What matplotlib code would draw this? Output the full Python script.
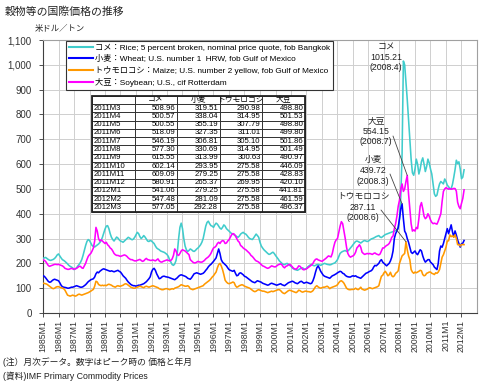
import numpy as np
import matplotlib.pyplot as plt
from matplotlib.patches import Rectangle

plt.rcParams['font.family'] = ['Liberation Sans', 'Noto Sans CJK JP']

# monthly prices (US$/ton), 1985M1 - 2012M3, one row per year
rice = [
    220, 222, 224, 220, 216, 213, 212, 214, 216, 220, 226, 234,
    238, 230, 222, 215, 212, 208, 203, 198, 192, 188, 185, 182,
    175, 178, 182, 190, 196, 204, 215, 232, 252, 272, 288, 296,
    292, 282, 272, 268, 266, 270, 274, 278, 284, 292, 305, 322,
    338, 350, 352, 340, 320, 305, 296, 290, 298, 306, 302, 295,
    290, 288, 285, 290, 295, 300, 305, 302, 298, 295, 298, 305,
    315, 325, 320, 308, 300, 305, 312, 306, 298, 290, 288, 292,
    290, 285, 280, 270, 262, 258, 255, 250, 248, 246, 244, 240,
    236, 228, 215, 205, 195, 192, 198, 212, 245, 300, 345, 362,
    340, 300, 270, 255, 248, 252, 258, 255, 250, 248, 252, 258,
    262, 268, 275, 285, 300, 325, 350, 365, 370, 360, 352, 350,
    345, 355, 362, 358, 350, 342, 338, 345, 355, 350, 340, 335,
    330, 325, 320, 318, 315, 312, 308, 305, 310, 318, 322, 325,
    320, 318, 312, 305, 300, 298, 296, 302, 310, 318, 312, 305,
    285, 270, 262, 255, 250, 245, 240, 236, 238, 242, 245, 240,
    232, 225, 218, 210, 205, 200, 196, 195, 198, 200, 196, 192,
    188, 182, 178, 175, 174, 172, 175, 178, 180, 182, 178, 176,
    180, 186, 190, 194, 196, 192, 190, 192, 195, 196, 194, 192,
    195, 198, 200, 198, 196, 195, 194, 195, 198, 200, 202, 208,
    215, 228, 240, 245, 248, 250, 252, 248, 250, 255, 262, 268,
    275, 282, 288, 290, 288, 285, 282, 286, 290, 292, 290, 288,
    290, 294, 298, 300, 302, 305, 308, 310, 312, 306, 304, 308,
    312, 316, 318, 320, 322, 324, 326, 328, 330, 332, 334, 340,
    380, 470, 640, 1015.21, 1000, 930, 860, 780, 700, 620, 565, 555,
    580, 620, 600, 560, 580, 610, 625, 600, 570, 590, 620, 605,
    580, 560, 520, 480, 470, 475, 500, 520, 530, 525, 520, 540,
    530, 515, 508.96, 500.57, 500.55, 518.09, 546.19, 577.30, 615.55, 602.14, 609.09, 580.91,
    541.06, 547.48, 577.05,
]

wheat = [
    150, 148, 142, 135, 128, 124, 125, 130, 134, 136, 134, 132,
    130, 122, 112, 106, 104, 103, 102, 100, 100, 102, 104, 104,
    106, 108, 110, 108, 106, 104, 104, 106, 110, 114, 120, 126,
    130, 134, 136, 138, 145, 158, 165, 162, 168, 172, 176, 178,
    176, 174, 172, 170, 168, 170, 168, 166, 168, 170, 172, 168,
    165, 158, 150, 145, 140, 132, 125, 120, 115, 112, 110, 110,
    108, 110, 112, 112, 114, 116, 118, 122, 126, 132, 138, 146,
    165, 176, 180, 172, 158, 148, 138, 140, 145, 148, 148, 146,
    145, 144, 142, 140, 138, 136, 134, 138, 142, 148, 152, 154,
    152, 150, 148, 145, 140, 138, 136, 142, 150, 158, 160, 162,
    160, 158, 156, 158, 160, 165, 172, 178, 186, 192, 196, 202,
    208, 215, 222, 240, 258, 240, 215, 205, 200, 195, 190, 182,
    175, 172, 170, 168, 172, 160, 150, 152, 160, 162, 158, 154,
    148, 146, 142, 138, 134, 130, 126, 124, 122, 126, 130, 128,
    126, 124, 120, 118, 116, 114, 112, 114, 118, 120, 118, 116,
    114, 112, 114, 116, 118, 114, 112, 110, 114, 118, 122, 124,
    126, 128, 126, 122, 120, 118, 122, 126, 128, 124, 120, 122,
    124, 122, 120, 118, 120, 130, 145, 165, 182, 190, 180, 168,
    160, 152, 148, 146, 144, 142, 140, 145, 150, 152, 155, 158,
    162, 165, 168, 166, 160, 158, 152, 148, 146, 145, 145, 148,
    150, 148, 150, 146, 144, 142, 140, 145, 150, 155, 160, 162,
    165, 168, 170, 175, 185, 192, 190, 195, 200, 210, 215, 205,
    200, 195, 190, 195, 200, 210, 225, 250, 300, 320, 330, 345,
    380, 420, 439.72, 380, 330, 320, 300, 285, 265, 245, 240, 245,
    250, 240, 235, 245, 255, 250, 230, 215, 205, 210, 215, 215,
    205, 200, 195, 185, 180, 175, 200, 250, 270, 265, 280, 300,
    320, 340, 319.51, 338.04, 355.19, 327.35, 306.81, 330.69, 313.99, 293.95, 279.25, 265.37,
    279.25, 281.09, 292.28,
]

maize = [
    120, 119, 118, 116, 112, 108, 104, 100, 98, 100, 104, 106,
    106, 104, 102, 100, 98, 92, 82, 72, 70, 68, 70, 72,
    70, 68, 70, 74, 76, 74, 72, 74, 76, 78, 80, 82,
    85, 88, 92, 95, 108, 128, 125, 115, 112, 110, 112, 110,
    112, 110, 114, 116, 114, 112, 108, 106, 104, 108, 110, 108,
    108, 110, 112, 116, 118, 116, 112, 108, 104, 102, 100, 100,
    102, 104, 106, 108, 106, 104, 102, 106, 108, 106, 104, 106,
    108, 110, 108, 106, 104, 102, 98, 96, 94, 94, 96, 98,
    98, 96, 94, 96, 98, 96, 100, 102, 104, 106, 110, 114,
    112, 110, 108, 108, 110, 106, 98, 96, 94, 96, 98, 100,
    102, 104, 106, 108, 110, 116, 120, 124, 128, 132, 138, 145,
    150, 158, 165, 182, 195, 200, 190, 175, 155, 132, 125, 120,
    118, 120, 122, 125, 122, 110, 104, 106, 110, 112, 114, 112,
    108, 106, 104, 102, 100, 96, 92, 88, 86, 88, 92, 94,
    92, 90, 88, 88, 86, 84, 82, 84, 86, 88, 86, 88,
    90, 92, 94, 94, 90, 84, 80, 78, 82, 86, 90, 92,
    90, 88, 86, 84, 82, 86, 92, 90, 86, 84, 86, 88,
    88, 86, 86, 84, 86, 90, 98, 106, 110, 105, 102, 100,
    102, 104, 104, 106, 108, 104, 98, 102, 104, 106, 108, 110,
    114, 122, 128, 130, 126, 120, 110, 100, 96, 94, 94, 95,
    95, 96, 100, 96, 94, 98, 104, 96, 94, 92, 94, 96,
    100, 102, 100, 98, 100, 102, 104, 106, 110, 130, 148, 152,
    162, 168, 160, 150, 154, 164, 150, 146, 150, 160, 164, 170,
    200, 215, 230, 235, 240, 287.11, 255, 230, 215, 175, 165, 160,
    165, 162, 165, 168, 172, 170, 155, 150, 152, 160, 162, 165,
    165, 160, 158, 155, 162, 160, 165, 175, 200, 225, 235, 250,
    265, 290, 290.98, 314.95, 307.79, 311.01, 305.10, 314.95, 300.63, 275.58, 275.58, 269.95,
    275.58, 275.58, 275.58,
]

soybean = [
    215, 212, 208, 200, 192, 188, 190, 192, 194, 196, 196, 195,
    196, 194, 192, 190, 186, 180, 178, 176, 176, 178, 180, 178,
    176, 178, 180, 184, 188, 188, 182, 180, 190, 200, 215, 228,
    235, 240, 250, 262, 290, 345, 330, 300, 290, 295, 290, 285,
    280, 285, 275, 270, 262, 258, 250, 240, 235, 232, 232, 230,
    228, 230, 232, 234, 232, 228, 222, 218, 215, 215, 212, 210,
    210, 212, 214, 216, 212, 208, 210, 216, 220, 215, 214, 212,
    212, 214, 212, 210, 214, 218, 210, 206, 205, 208, 210, 212,
    214, 212, 210, 212, 218, 232, 258, 250, 235, 232, 240, 250,
    255, 252, 250, 245, 240, 235, 215, 210, 205, 202, 202, 205,
    208, 206, 205, 205, 208, 212, 218, 222, 226, 232, 240, 252,
    262, 265, 270, 280, 285, 280, 288, 292, 290, 280, 282, 290,
    295, 305, 315, 320, 318, 310, 300, 290, 285, 272, 268, 262,
    258, 255, 250, 245, 240, 232, 228, 222, 215, 210, 208, 205,
    200, 195, 190, 188, 185, 182, 180, 182, 186, 190, 188, 186,
    186, 190, 194, 196, 198, 194, 186, 182, 188, 190, 194, 196,
    192, 186, 180, 178, 176, 182, 190, 188, 182, 176, 174, 176,
    178, 182, 186, 190, 194, 200, 210, 216, 218, 214, 212, 210,
    208, 212, 216, 220, 225, 230, 228, 226, 240, 265, 285, 295,
    300, 325, 350, 368, 360, 330, 300, 265, 240, 230, 225, 228,
    230, 235, 245, 262, 268, 275, 265, 245, 240, 236, 238, 240,
    238, 240, 238, 236, 240, 242, 238, 236, 234, 238, 250, 262,
    262, 268, 272, 275, 280, 290, 305, 310, 340, 360, 390, 430,
    455, 500, 520, 490, 500, 530, 554.15, 480, 420, 360, 330, 335,
    330, 345, 340, 380, 430, 445, 420, 390, 380, 385, 400, 390,
    375, 365, 360, 362, 360, 358, 370, 385, 400, 450, 490, 500,
    505, 502, 498.80, 501.53, 498.80, 499.80, 501.86, 501.49, 490.97, 446.09, 428.83, 420.10,
    441.81, 461.59, 496.37,
]

start_year = 1985
names = ['コメ', '小麦', 'トウモロコシ', '大豆']
legend_labels = [
    'コメ：Rice; 5 percent broken, nominal price quote, fob Bangkok',
    '小麦：Wheat; U.S. number 1  HRW, fob Gulf of Mexico',
    'トウモロコシ：Maize; U.S. number 2 yellow, fob Gulf of Mexico',
    '大豆：Soybean; U.S., cif Rotterdam',
]
colors = ['#40CCCC', '#0000FF', '#FF9900', '#FF00FF']
series = [rice, wheat, maize, soybean]

n = len(rice)
x = np.arange(n)
month_labels = ['%dM%d' % (start_year + i // 12, i % 12 + 1) for i in range(n)]

fig = plt.figure(figsize=(5, 3.85), dpi=100)
ax = fig.add_axes([43 / 500, 1 - 313 / 385, 434 / 500, 273 / 385])

for s, c, lab in zip(series, colors, legend_labels):
    ax.plot(x, s, color=c, lw=1.15, label=lab, zorder=3)

ax.set_xlim(0, 336)
ax.set_ylim(0, 1100)
ax.set_xticks(np.arange(0, n, 12))
ax.set_xticklabels(month_labels[::12], rotation=90, fontsize=6.3, color='#333333')
ax.set_yticks(np.arange(0, 1101, 100))
ax.set_yticklabels(['{:,}'.format(v) for v in range(0, 1101, 100)], fontsize=7, color='#333333')
ax.tick_params(axis='both', length=3, width=0.6, pad=2, colors='#333333')
ax.tick_params(axis='y', pad=5)
ax.grid(True, color='#CFCFCF', lw=0.7, zorder=0)
ax.set_axisbelow(True)
for sp in ['top', 'right']:
    ax.spines[sp].set_color('#A0A0A0')
for sp in ['left', 'bottom']:
    ax.spines[sp].set_color('#404040')

leg = ax.legend(loc='upper left', bbox_to_anchor=(0.053, 0.997), fontsize=5.95,
                frameon=True, fancybox=False, edgecolor='#333333', framealpha=1,
                borderpad=0.4, labelspacing=0.35, handlelength=2.9,
                handletextpad=0.2, borderaxespad=0)
leg.get_frame().set_linewidth(0.8)
for h in leg.get_lines():
    h.set_linewidth(1.5)

# table of the last 13 months
k = 13
rows = []
for i in range(n - k, n):
    rows.append([month_labels[i]] + ['%.2f' % s[i] for s in series])
tbl = ax.table(cellText=rows, colLabels=[''] + names, cellLoc='right', colLoc='center',
               bbox=[0.1129, 0.371, 0.4908, 0.425])
tbl.auto_set_font_size(False)
tbl.set_fontsize(5.6)
tbl.set_zorder(6)
for (r, c), cell in tbl.get_celld().items():
    cell.set_linewidth(0.6)
    cell.set_edgecolor('#222222')
    cell.PAD = 0.04
    if c == 0 and r > 0:
        cell.get_text().set_ha('left')
        cell._loc = 'left'
ax.add_patch(Rectangle((0.1129, 0.371), 0.4908, 0.425, transform=ax.transAxes,
                       fill=False, lw=1.3, edgecolor='#222222', zorder=7))

# peak labels (2008): text position and leader start, in figure pixels from top-left
i0 = (2008 - start_year) * 12
text_pos = [(386, 42), (373, 155), (363, 192), (376, 116)]
line_start = [None, (390, 174), (381, 210), (393, 136)]
for s, nm, (tx, ty), ls in zip(series, names, text_pos, line_start):
    seg = np.array(s[i0:i0 + 12])
    j = i0 + int(np.argmax(seg))
    txt = '%s\n%.2f\n(%d.%d)' % (nm, s[j], start_year + j // 12, j % 12 + 1)
    fig.text(tx / 500, 1 - ty / 385, txt, ha='center', va='top', fontsize=6.3,
             linespacing=1.25, color='#222222')
    if ls is not None:
        ax.annotate('', xy=(j, s[j]), xytext=(ls[0], 385 - ls[1]),
                    textcoords='figure pixels',
                    arrowprops=dict(arrowstyle='-', color='#444444', lw=0.6,
                                    shrinkA=0, shrinkB=0), zorder=8)

fig.text(5 / 500, 1 - 12 / 385, '穀物等の国際価格の推移', fontsize=7.8, va='center', color='#222222')
fig.text(35 / 500, 1 - 29 / 385, '米ドル／トン', fontsize=6, va='center', color='#222222')
fig.text(3 / 500, 1 - 362 / 385, '(注）月次データ。数字はピーク時の 価格と年月', fontsize=6.3, va='center', color='#222222')
fig.text(3 / 500, 1 - 376 / 385, '(資料)IMF Primary Commodity Prices', fontsize=6.3, va='center', color='#222222')

fig.savefig('out.png', dpi=100, facecolor='white')
